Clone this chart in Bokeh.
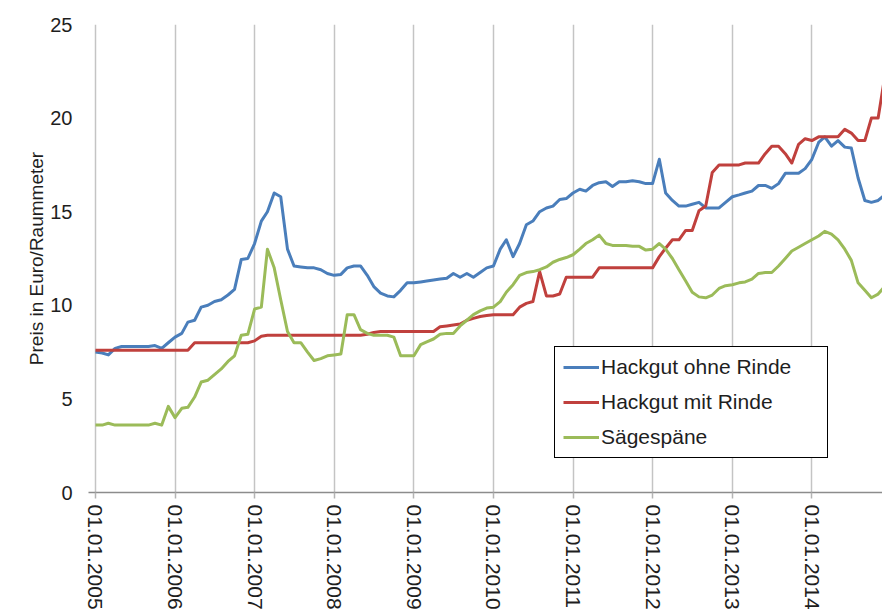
import pandas as pd
from bokeh.plotting import figure
from bokeh.models import Range1d, FixedTicker, DatetimeTickFormatter
from bokeh.embed import file_html
from bokeh.resources import INLINE

# ---------------- data (monthly, Jan 2005 - Dec 2014) ----------------
start_month = "2005-01-01"
n_months = 120
series_names = ["Hackgut ohne Rinde", "Hackgut mit Rinde", "Sägespäne"]
year_ticks = list(range(2005, 2015))

hackgut_ohne = [
    7.5, 7.45, 7.35, 7.7, 7.8, 7.8, 7.8, 7.8, 7.8, 7.85, 7.7, 8.0,
    8.3, 8.5, 9.1, 9.2, 9.9, 10.0, 10.2, 10.3, 10.55, 10.85, 12.45, 12.5,
    13.3, 14.5, 15.0, 16.0, 15.8, 13.0, 12.1, 12.05, 12.0, 12.0, 11.9, 11.7,
    11.6, 11.65, 12.0, 12.1, 12.1, 11.6, 11.0, 10.65, 10.5, 10.45, 10.8, 11.2,
    11.2, 11.25, 11.3, 11.35, 11.4, 11.45, 11.7, 11.5, 11.7, 11.5, 11.75, 12.0,
    12.1, 13.0, 13.5, 12.6, 13.3, 14.3, 14.5, 15.0, 15.2, 15.3, 15.65, 15.7,
    16.0, 16.2, 16.1, 16.4, 16.55, 16.6, 16.35, 16.6, 16.6, 16.65, 16.6, 16.5,
    16.5, 17.8, 16.0, 15.6, 15.3, 15.3, 15.4, 15.5, 15.2, 15.2, 15.2, 15.5,
    15.8, 15.9, 16.0, 16.1, 16.4, 16.4, 16.25, 16.5, 17.05, 17.05, 17.05, 17.3,
    17.8, 18.7, 19.0, 18.5, 18.8, 18.45, 18.4, 16.8, 15.6, 15.5, 15.6, 15.9,
]

hackgut_mit = [
    7.6, 7.6, 7.6, 7.6, 7.6, 7.6, 7.6, 7.6, 7.6, 7.6, 7.6, 7.6,
    7.6, 7.6, 7.6, 8.0, 8.0, 8.0, 8.0, 8.0, 8.0, 8.0, 8.0, 8.0,
    8.1, 8.35, 8.4, 8.4, 8.4, 8.4, 8.4, 8.4, 8.4, 8.4, 8.4, 8.4,
    8.4, 8.4, 8.4, 8.4, 8.4, 8.45, 8.55, 8.6, 8.6, 8.6, 8.6, 8.6,
    8.6, 8.6, 8.6, 8.6, 8.85, 8.9, 8.95, 9.0, 9.2, 9.3, 9.4, 9.45,
    9.5, 9.5, 9.5, 9.5, 9.9, 10.1, 10.2, 11.8, 10.5, 10.5, 10.6, 11.5,
    11.5, 11.5, 11.5, 11.5, 12.0, 12.0, 12.0, 12.0, 12.0, 12.0, 12.0, 12.0,
    12.0, 12.6, 13.05, 13.5, 13.5, 14.0, 14.0, 15.05, 15.3, 17.1, 17.5, 17.5,
    17.5, 17.5, 17.6, 17.6, 17.6, 18.1, 18.5, 18.5, 18.1, 17.6, 18.6, 18.9,
    18.8, 19.0, 19.0, 19.0, 19.0, 19.4, 19.2, 18.8, 18.8, 20.0, 20.0, 22.2,
]

saegespaene = [
    3.6, 3.6, 3.7, 3.6, 3.6, 3.6, 3.6, 3.6, 3.6, 3.7, 3.6, 4.6,
    4.0, 4.5, 4.55, 5.1, 5.9, 6.0, 6.3, 6.6, 7.0, 7.3, 8.4, 8.45,
    9.8, 9.9, 13.0, 12.0, 10.3, 8.6, 8.0, 8.0, 7.5, 7.05, 7.15, 7.3,
    7.35, 7.4, 9.5, 9.5, 8.7, 8.5, 8.4, 8.4, 8.4, 8.3, 7.3, 7.3,
    7.3, 7.9, 8.05, 8.2, 8.45, 8.5, 8.5, 8.9, 9.2, 9.5, 9.7, 9.85,
    9.9, 10.2, 10.7, 11.1, 11.6, 11.75, 11.8, 11.9, 12.05, 12.3, 12.45, 12.55,
    12.7, 13.0, 13.3, 13.5, 13.75, 13.3, 13.2, 13.2, 13.2, 13.15, 13.15, 12.95,
    13.0, 13.3, 13.0, 12.5, 11.9, 11.3, 10.7, 10.45, 10.4, 10.55, 10.9, 11.05,
    11.1, 11.2, 11.25, 11.4, 11.7, 11.75, 11.75, 12.1, 12.5, 12.9, 13.1, 13.3,
    13.5, 13.7, 13.95, 13.8, 13.5, 13.0, 12.4, 11.2, 10.8, 10.4, 10.6, 11.0,
]

colors = ["#4A7EBB", "#C0403D", "#9BBB59"]

# ---------------- figure ----------------
dates = pd.date_range(start_month, periods=n_months, freq="MS")


def ms(ts):
    return pd.Timestamp(ts).value / 1e6


x_start = ms("2005-01-01") - 32 * 86400000
x_end = ms("2014-11-21")

FONT = "Liberation Sans"
TXT = "#1e1e1e"

p = figure(width=882, height=612, x_axis_type="datetime",
           x_range=Range1d(x_start, x_end), y_range=Range1d(0, 25),
           output_backend="svg", toolbar_location=None,
           min_border_left=88, min_border_right=0, min_border_top=24,
           min_border_bottom=0)
p.outline_line_color = None
p.background_fill_color = "white"
p.border_fill_color = "white"

for vals, name, col in zip([hackgut_ohne, hackgut_mit, saegespaene],
                           series_names, colors):
    p.line(dates, vals, line_color=col, line_width=3, legend_label=name,
           line_join="round")

# x axis
p.xaxis.ticker = FixedTicker(ticks=[ms(f"{y}-01-01") for y in year_ticks])
fmt = "%d.%m.%Y"
p.xaxis.formatter = DatetimeTickFormatter(years=fmt, months=fmt, days=fmt,
                                          hours=fmt, minutes=fmt, seconds=fmt,
                                          milliseconds=fmt, microseconds=fmt,
                                          hourmin=fmt, minsec=fmt)
p.xaxis.major_label_orientation = "vertical"
p.xaxis.major_label_text_font = FONT
p.xaxis.major_label_text_font_size = "21px"
p.xaxis.major_label_text_color = TXT
p.xaxis.major_label_standoff = 6
p.xaxis.axis_line_color = "#8c8c8c"
p.xaxis.axis_line_width = 1.5
p.xaxis.major_tick_line_color = "#b4b4b4"
p.xaxis.major_tick_line_width = 1.5
p.xaxis.major_tick_out = 6
p.xaxis.major_tick_in = 0
p.xaxis.minor_tick_line_color = None

# y axis
p.yaxis.ticker = FixedTicker(ticks=[0, 5, 10, 15, 20, 25])
p.yaxis.axis_line_color = None
p.yaxis.major_tick_line_color = None
p.yaxis.minor_tick_line_color = None
p.yaxis.major_label_text_font = FONT
p.yaxis.major_label_text_font_size = "20px"
p.yaxis.major_label_text_color = TXT
p.yaxis.major_label_standoff = 10
p.yaxis.axis_label = "Preis in Euro/Raummeter"
p.yaxis.axis_label_text_font = FONT
p.yaxis.axis_label_text_font_size = "19px"
p.yaxis.axis_label_text_font_style = "normal"
p.yaxis.axis_label_text_color = TXT
p.yaxis.axis_label_standoff = 0

# grids
p.ygrid.grid_line_color = None
p.xgrid.grid_line_color = "#c4c4c4"
p.xgrid.grid_line_width = 1.5

# legend
lg = p.legend[0]
lg.location = (466, 34)
lg.border_line_color = "black"
lg.border_line_width = 1
lg.border_line_alpha = 1
lg.background_fill_color = "white"
lg.background_fill_alpha = 1
lg.label_text_font = FONT
lg.label_text_font_size = "21px"
lg.label_text_color = TXT
lg.glyph_width = 36
lg.label_standoff = 2
lg.padding = 8
lg.spacing = 11
lg.margin = 0
lg.label_width = 218

open("out.html", "w").write(file_html(p, INLINE))
